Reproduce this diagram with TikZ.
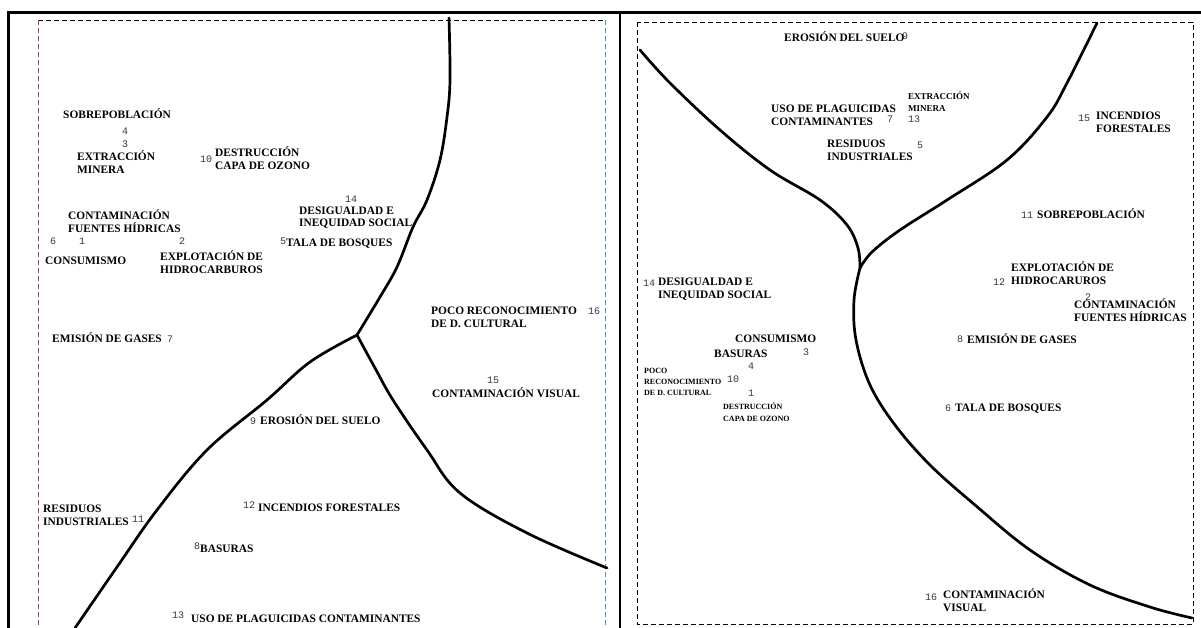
\documentclass[tikz,border=0pt]{standalone}
\usepackage{fontspec}
\newfontfamily\lblfont{Liberation Serif}
\newfontfamily\numfont{Liberation Mono}
\definecolor{numgray}{HTML}{3A3340}
\definecolor{dashpink}{HTML}{A0466E}
\definecolor{dashblue}{HTML}{5A8FB0}
\tikzset{
  lbl/.style={font=\lblfont\bfseries\fontsize{11.4}{13}\selectfont, inner sep=0pt, anchor=base west, align=left},
  sml/.style={lbl, font=\lblfont\bfseries\fontsize{8}{11}\selectfont},
  num/.style={font=\numfont\fontsize{10}{12}\selectfont, text=numgray, inner sep=0pt, anchor=base west},
  panelline/.style={line width=3pt},
  guide/.style={line width=0.6pt, dash pattern=on 5pt off 3pt},
  ridge/.style={line width=2.7pt, line cap=round}
}
\begin{document}
\begin{tikzpicture}[x=1pt, y=-1pt]
  \useasboundingbox (0,0) rectangle (1201,628);
  \draw[panelline] (8,628) -- (8,13) -- (1201,13);
  \draw[line width=2pt] (620,13) -- (620,628);
  \draw[guide] (38,20) -- (605,20);
  \draw[guide, dashpink] (38,20) -- (38,628);
  \draw[guide, dashblue] (605,20) -- (605,628);
  \draw[guide] (637,22) rectangle (1193,624);
  \coordinate (jl) at (357,335);
  \coordinate (jr) at (860,268);
  \draw[ridge] plot[smooth, tension=0.6] coordinates {(449,18) (450,80) (447,117) (440,160) (427,200) (413,227) (397,267) (380,297) (jl)};
  \draw[ridge] plot[smooth, tension=0.6] coordinates {(jl) (310,362) (267,400) (207,450) (157,510) (117,567) (75,628)};
  \draw[ridge] plot[smooth, tension=0.6] coordinates {(jl) (375,368) (393,400) (427,450) (460,493) (527,533) (607,568)};
  \draw[ridge] plot[smooth, tension=0.6] coordinates {(640,50) (670,83) (720,130) (770,170) (820,200) (847,225) (858,248) (jr)};
  \draw[ridge] plot[smooth, tension=0.6] coordinates {(1097,23) (1067,83) (1047,117) (1007,160) (947,200) (900,230) (872,252) (jr)};
  \draw[ridge] plot[smooth, tension=0.6] coordinates {(jr) (854,300) (856,340) (870,385) (895,425) (930,465) (975,505) (1030,550) (1090,585) (1150,607) (1192,618)};

  \node[lbl] (sobreL) at (63,119) {SOBREPOBLACIÓN};
  \node[num] (n4L) at (122,135) {4};
  \node[num] (n3L) at (122,148) {3};
  \node[lbl] (mineraL) at (77,174) {EXTRACCIÓN\\MINERA};
  \node[num] (n10L) at (200,163) {10};
  \node[lbl] (ozonoL) at (215,170) {DESTRUCCIÓN\\CAPA DE OZONO};
  \node[num] (n14L) at (345,203) {14};
  \node[lbl] (socialL) at (299,227) {DESIGUALDAD E\\INEQUIDAD SOCIAL};
  \node[lbl] (hidricasL) at (68,233) {CONTAMINACIÓN\\FUENTES HÍDRICAS};
  \node[num] (n6L) at (50,245) {6};
  \node[num] (n1L) at (79,245) {1};
  \node[num] (n2L) at (179,245) {2};
  \node[num] (n5L) at (280,244) {5};
  \node[lbl] (talaL) at (286,247) {TALA DE BOSQUES};
  \node[lbl] (consumoL) at (45,265) {CONSUMISMO};
  \node[lbl] (hidrocL) at (160,273) {EXPLOTACIÓN DE\\HIDROCARBUROS};
  \node[lbl] (gasesL) at (52,342) {EMISIÓN DE GASES};
  \node[num] (n7L) at (167,342) {7};
  \node[lbl] (culturalL) at (431,327) {POCO RECONOCIMIENTO\\DE D. CULTURAL};
  \node[num] (n16L) at (588,314) {16};
  \node[num] (n15L) at (487,383) {15};
  \node[lbl] (visualL) at (432,397) {CONTAMINACIÓN VISUAL};
  \node[num] (n9L) at (250,424) {9};
  \node[lbl] (erosionL) at (260,424) {EROSIÓN DEL SUELO};
  \node[lbl] (residuosL) at (43,525) {RESIDUOS\\INDUSTRIALES};
  \node[num] (n11L) at (132,522) {11};
  \node[num] (n12L) at (243,508) {12};
  \node[lbl] (incendiosL) at (258,511) {INCENDIOS FORESTALES};
  \node[num] (n8L) at (194,549) {8};
  \node[lbl] (basurasL) at (200,552) {BASURAS};
  \node[num] (n13L) at (172,618) {13};
  \node[lbl] (plaguiL) at (191,622) {USO DE PLAGUICIDAS CONTAMINANTES};

  \node[lbl] (erosionR) at (784,42) {EROSIÓN DEL SUELO};
  \node[num] (n9R) at (902,40) {9};
  \node[lbl] (plaguiR) at (771,126) {USO DE PLAGUICIDAS\\CONTAMINANTES};
  \node[num] (n7R) at (887,123) {7};
  \node[sml, font=\lblfont\bfseries\fontsize{9}{12}\selectfont] (mineraR) at (908,112) {EXTRACCIÓN\\MINERA};
  \node[num] (n13R) at (908,123) {13};
  \node[lbl] (residuosR) at (827,161) {RESIDUOS\\INDUSTRIALES};
  \node[num] (n5R) at (917,149) {5};
  \node[num] (n15R) at (1078,122) {15};
  \node[lbl] (incendiosR) at (1096,133) {INCENDIOS\\FORESTALES};
  \node[num] (n11R) at (1021,219) {11};
  \node[lbl] (sobreR) at (1037,219) {SOBREPOBLACIÓN};
  \node[lbl] (hidrocR) at (1011,284) {EXPLOTACIÓN DE\\HIDROCARUROS};
  \node[num] (n12R) at (993,285) {12};
  \node[num] (n2R) at (1085,300) {2};
  \node[lbl] (hidricasR) at (1074,321) {CONTAMINACIÓN\\FUENTES HÍDRICAS};
  \node[num] (n8R) at (957,342) {8};
  \node[lbl] (gasesR) at (967,343) {EMISIÓN DE GASES};
  \node[num] (n6R) at (945,411) {6};
  \node[lbl] (talaR) at (955,411) {TALA DE BOSQUES};
  \node[num] (n14R) at (643,286) {14};
  \node[lbl] (socialR) at (658,298) {DESIGUALDAD E\\INEQUIDAD SOCIAL};
  \node[lbl] (consumoR) at (735,342) {CONSUMISMO};
  \node[lbl] (basurasR) at (714,357) {BASURAS};
  \node[num] (n3R) at (803,355) {3};
  \node[num] (n4R) at (748,369) {4};
  \node[sml] (culturalR) at (644,395) {POCO\\RECONOCIMIENTO\\DE D. CULTURAL};
  \node[num] (n10R) at (727,382) {10};
  \node[num] (n1R) at (748,396) {1};
  \node[sml, font=\lblfont\bfseries\fontsize{8}{12}\selectfont] (ozonoR) at (723,421) {DESTRUCCIÓN\\CAPA DE OZONO};
  \node[num] (n16R) at (925,600) {16};
  \node[lbl] (visualR) at (943,611) {CONTAMINACIÓN\\VISUAL};
\end{tikzpicture}
\end{document}
